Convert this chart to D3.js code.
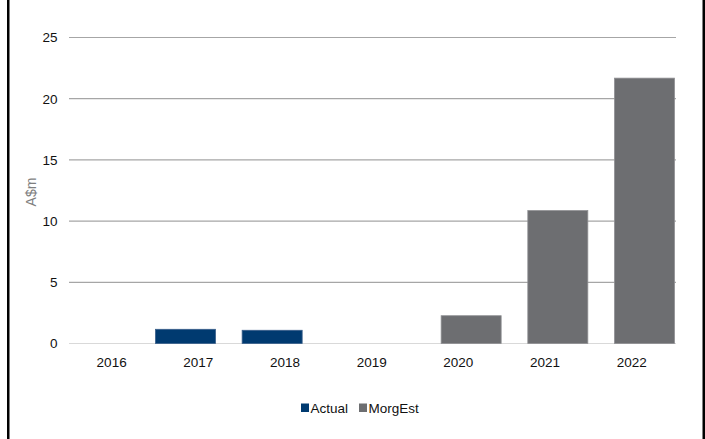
<!DOCTYPE html>
<html>
<head>
<meta charset="utf-8">
<script src="https://cdn.jsdelivr.net/npm/d3@7"></script>
<style>
  html, body { margin: 0; padding: 0; background: #fff; }
  svg { display: block; font-family: "Liberation Sans", Arial, sans-serif; }
</style>
</head>
<body>
<svg id="chart" width="705" height="439"></svg>
<script>
// Years on the category axis
const years = ["2016", "2017", "2018", "2019", "2020", "2021", "2022"];
// Series values, A$ millions (null = no bar)
const actual  = [null, 1.16, 1.08, null, null, null, null];
const morgEst = [null, null, null, null, 2.27, 10.86, 21.68];
// Series names and value-axis ticks
const seriesNames = ["Actual", "MorgEst"];
const yTicks = [0, 5, 10, 15, 20, 25];

const colors = { Actual: "#003a70", MorgEst: "#6d6e71" };
const strokes = { Actual: "#3a5f8a", MorgEst: "#8f9093" };

const svg = d3.select("#chart");
const W = 705, H = 439;
const plot = { left: 68.3, right: 675, top: 37.5, bottom: 343.5 };
const FS = 13.5;

const x = d3.scaleBand().domain(years).range([plot.left, plot.right]);
const y = d3.scaleLinear().domain([0, 25]).range([plot.bottom, plot.top]);

// frame edges
svg.append("rect").attr("x", 7).attr("y", 0).attr("width", 2.5).attr("height", H).attr("fill", "#000");
svg.append("rect").attr("x", 702.5).attr("y", 0).attr("width", 2.5).attr("height", H).attr("fill", "#000");

// horizontal gridlines
svg.append("g").selectAll("line")
  .data(yTicks)
  .join("line")
  .attr("x1", plot.left + 0.7).attr("x2", plot.right + 1)
  .attr("y1", d => y(d)).attr("y2", d => y(d))
  .attr("stroke", d => d === 0 ? "#d9d9d9" : "#a6a6a6")
  .attr("stroke-width", 1.2);

// value axis labels
svg.append("g").selectAll("text")
  .data(yTicks)
  .join("text")
  .attr("x", 57.5).attr("y", d => y(d))
  .attr("dy", "0.36em")
  .attr("text-anchor", "end")
  .attr("font-size", FS)
  .attr("fill", "#111")
  .text(d => d);

// value axis title
svg.append("text")
  .attr("transform", "translate(36,192) rotate(-90)")
  .attr("text-anchor", "middle")
  .attr("font-size", 14)
  .attr("fill", "#7f7f7f")
  .text("A$m");

// category labels
svg.append("g").selectAll("text")
  .data(years)
  .join("text")
  .attr("x", d => x(d) + x.bandwidth() / 2)
  .attr("y", 366.8)
  .attr("text-anchor", "middle")
  .attr("font-size", FS)
  .attr("fill", "#111")
  .text(d => d);

// overlapping clustered bars
const barW = x.bandwidth() * 0.704;
const shift = x.bandwidth() - barW;
const rows = [];
years.forEach((yr, i) => {
  [actual, morgEst].forEach((vals, s) => {
    if (vals[i] != null) rows.push({ year: yr, series: seriesNames[s], idx: s, value: vals[i] });
  });
});

svg.append("g").selectAll("rect")
  .data(rows)
  .join("rect")
  .attr("x", d => x(d.year) + d.idx * shift + 0.5)
  .attr("y", d => y(d.value))
  .attr("width", barW - 1)
  .attr("height", d => y(0) - y(d.value))
  .attr("fill", d => colors[d.series])
  .attr("stroke", d => strokes[d.series])
  .attr("stroke-width", 0.8);

// legend
const legend = svg.append("g");
const legendItems = [
  { name: "Actual", sx: 301, tx: 310.5 },
  { name: "MorgEst", sx: 359, tx: 368.5 }
];
legend.selectAll("rect")
  .data(legendItems)
  .join("rect")
  .attr("x", d => d.sx).attr("y", 403.5)
  .attr("width", 8).attr("height", 8.5)
  .attr("fill", d => colors[d.name]);
legend.selectAll("text")
  .data(legendItems)
  .join("text")
  .attr("x", d => d.tx).attr("y", 412.5)
  .attr("font-size", FS)
  .attr("fill", "#111")
  .text(d => d.name);
</script>
</body>
</html>
